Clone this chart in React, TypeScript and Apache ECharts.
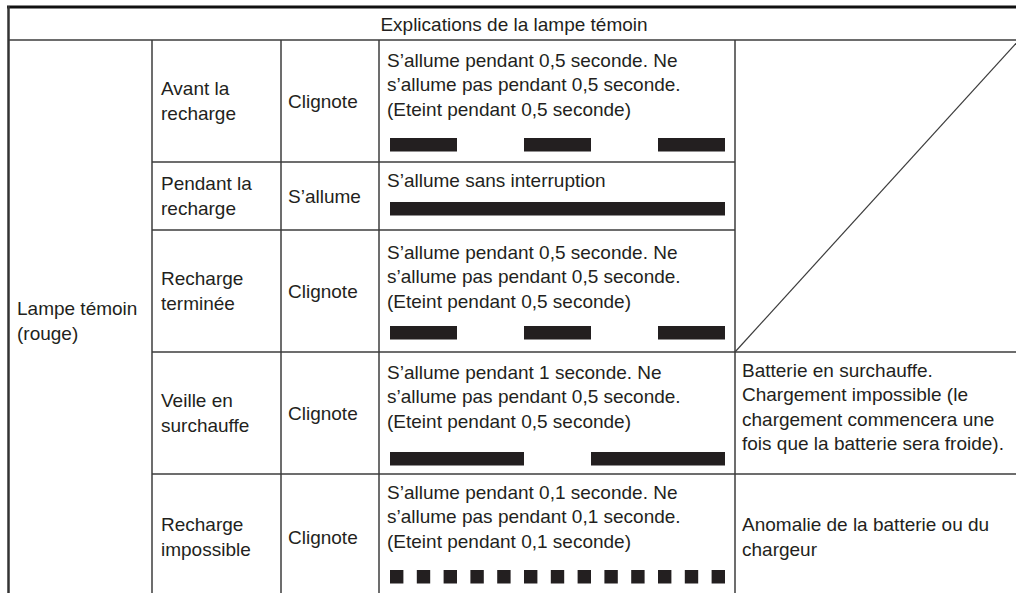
import React, { useEffect, useRef } from "react";
import * as echarts from "echarts";

// ---- Table content ----
const headerTitle = "Explications de la lampe témoin";
const lampName = "Lampe témoin\n(rouge)";
const stateLabels = [
  "Avant la\nrecharge",
  "Pendant la\nrecharge",
  "Recharge\nterminée",
  "Veille en\nsurchauffe",
  "Recharge\nimpossible",
];
const lampModes = ["Clignote", "S’allume", "Clignote", "Clignote", "Clignote"];
const descriptions = [
  "S’allume pendant 0,5 seconde. Ne\ns’allume pas pendant 0,5 seconde.\n(Eteint pendant 0,5 seconde)",
  "S’allume sans interruption",
  "S’allume pendant 0,5 seconde. Ne\ns’allume pas pendant 0,5 seconde.\n(Eteint pendant 0,5 seconde)",
  "S’allume pendant 1 seconde. Ne\ns’allume pas pendant 0,5 seconde.\n(Eteint pendant 0,5 seconde)",
  "S’allume pendant 0,1 seconde. Ne\ns’allume pas pendant 0,1 seconde.\n(Eteint pendant 0,1 seconde)",
];
const remarks = [
  "",
  "",
  "",
  "Batterie en surchauffe.\nChargement impossible (le\nchargement commencera une\nfois que la batterie sera froide).",
  "Anomalie de la batterie ou du\nchargeur",
];

// lamp "on" periods [start s, end s] over a 2.5 s timeline
const timelineSeconds = [0, 2.5];
const onPeriodsBefore = [[0, 0.5], [1, 1.5], [2, 2.5]];
const onPeriodsCharging = [[0, 2.5]];
const onPeriodsDone = [[0, 0.5], [1, 1.5], [2, 2.5]];
const onPeriodsHot = [[0, 1], [1.5, 2.5]];
const onPeriodsFault = [
  [0, 0.1], [0.2, 0.3], [0.4, 0.5], [0.6, 0.7], [0.8, 0.9], [1.0, 1.1], [1.2, 1.3],
  [1.4, 1.5], [1.6, 1.7], [1.8, 1.9], [2.0, 2.1], [2.2, 2.3], [2.4, 2.5],
];
const onPeriods = [onPeriodsBefore, onPeriodsCharging, onPeriodsDone, onPeriodsHot, onPeriodsFault];

// ---- layout ----
const FONT = "'Liberation Sans', Arial, Helvetica, sans-serif";
const TEXT = "#231f20";
const LINE = "#3c3c3c";
const rowEdges = [40, 162, 230, 352, 474, 600];
const colX = [9, 152, 281, 379, 735, 1019];
const descOffset = [8, 6, 10, 8, 6];
const barOffset = [98, 40, 96, 100, 96];
const barH = 13.5;
const barLeft = 390;
const barWidth = 335;

export default function App() {
  const ref = useRef<HTMLDivElement>(null);

  useEffect(() => {
    if (!ref.current) return;
    const chart = echarts.init(ref.current, undefined, { renderer: "svg" });

    const g: any[] = [];
    const line = (x1: number, y1: number, x2: number, y2: number, w = 1.5, c = LINE) =>
      g.push({ type: "line", silent: true, shape: { x1, y1, x2, y2 }, style: { stroke: c, lineWidth: w } });
    const text = (x: number, y: number, t: string, align = "left", vAlign = "middle") =>
      g.push({
        type: "text",
        silent: true,
        x,
        y,
        style: {
          text: t,
          fontSize: 19,
          fontFamily: FONT,
          fill: TEXT,
          align,
          verticalAlign: vAlign,
          lineHeight: 24.5,
        },
      });

    // borders
    line(7, 7, 1016, 7, 3, "#111");
    line(8.5, 6, 8.5, 593, 2.5, "#333");
    line(9, 40, 1016, 40, 1.5);
    [colX[1], colX[2], colX[3], colX[4]].forEach((x) => line(x, 40, x, 593, 1.5));
    line(colX[1], rowEdges[1], colX[4], rowEdges[1]);
    line(colX[1], rowEdges[2], colX[4], rowEdges[2]);
    line(colX[1], rowEdges[3], 1016, rowEdges[3]);
    line(colX[1], rowEdges[4], 1016, rowEdges[4]);
    line(colX[5], rowEdges[0], colX[4], rowEdges[3], 1.2);

    // texts
    text((colX[0] + colX[5]) / 2, 24, headerTitle, "center");
    text(17, (rowEdges[0] + rowEdges[5]) / 2 + 1, lampName);
    stateLabels.forEach((s, i) => {
      const cy = (rowEdges[i] + rowEdges[i + 1]) / 2;
      text(colX[1] + 9, cy, s);
      text(colX[2] + 7, cy, lampModes[i]);
      text(colX[3] + 8, rowEdges[i] + descOffset[i], descriptions[i], "left", "top");
      if (remarks[i]) {
        const ry = i === 3 ? cy - 6 : cy;
        text(colX[4] + 7, ry, remarks[i]);
      }
    });

    const grids = onPeriods.map((_, i) => ({
      left: barLeft,
      width: barWidth,
      top: rowEdges[i] + barOffset[i],
      height: barH,
    }));

    chart.setOption({
      animation: false,
      graphic: g,
      grid: grids,
      xAxis: onPeriods.map((_, i) => ({
        type: "value",
        gridIndex: i,
        min: timelineSeconds[0],
        max: timelineSeconds[1],
        show: false,
      })),
      yAxis: onPeriods.map((_, i) => ({
        type: "category",
        gridIndex: i,
        data: ["on"],
        show: false,
      })),
      series: onPeriods.map((d, i) => ({
        type: "custom",
        xAxisIndex: i,
        yAxisIndex: i,
        silent: true,
        data: d,
        encode: { x: [0, 1] },
        renderItem: (params: any, api: any) => {
          const s = api.coord([api.value(0), 0]);
          const e = api.coord([api.value(1), 0]);
          const h = api.size([0, 1])[1];
          return {
            type: "rect",
            shape: { x: s[0], y: s[1] - h / 2, width: e[0] - s[0], height: h },
            style: { fill: TEXT },
          };
        },
      })),
    });

    return () => chart.dispose();
  }, []);

  return (
    <div
      ref={ref}
      style={{ position: "absolute", left: 0, top: 0, width: 1016, height: 593, background: "#fff" }}
    />
  );
}
